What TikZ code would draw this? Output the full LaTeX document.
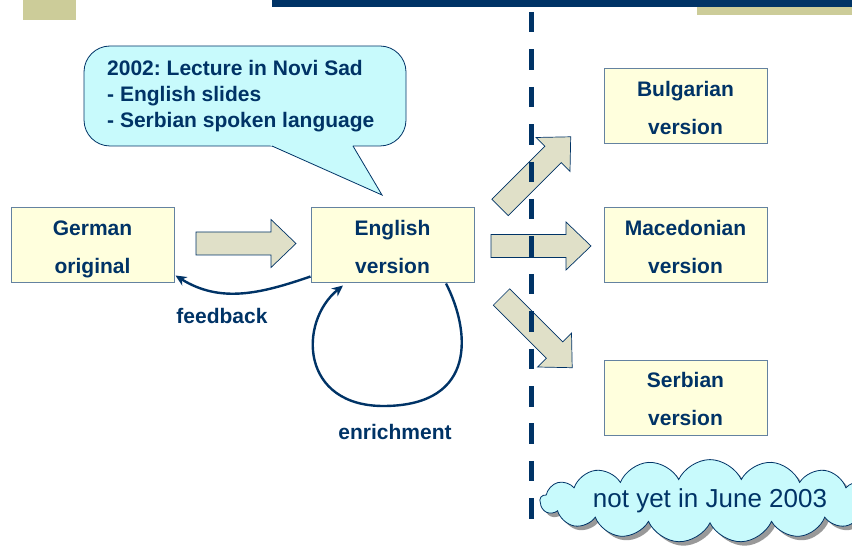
\documentclass[tikz,border=0pt]{standalone}
\usepackage{fontspec}
\setmainfont{Liberation Sans}
\usetikzlibrary{shapes.symbols,arrows.meta,shadows}

\definecolor{navy}{RGB}{0,51,102}
\definecolor{boxfill}{RGB}{255,255,221}
\definecolor{boxline}{RGB}{100,130,160}
\definecolor{arrowfill}{RGB}{224,224,200}
\definecolor{khaki}{RGB}{204,204,153}
\definecolor{callfill}{RGB}{200,250,252}

\frenchspacing
\begin{document}
\begin{tikzpicture}[x=1pt,y=-1pt,
  box/.style={draw=boxline, line width=1pt, fill=boxfill,
    minimum width=163pt, minimum height=75pt, inner sep=0pt,
    align=center, text=navy, font=\bfseries\fontsize{21}{38}\selectfont,
    execute at begin node=\rule{0pt}{61.5pt},
    execute at end node=\rule[-5pt]{0pt}{5pt}},
  blockarr/.pic={\path[draw=navy, line width=0.7pt, fill=arrowfill, line join=miter]
    (0,-11.5) -- (75,-11.5) -- (75,-24) -- (100,0) -- (75,24) -- (75,11.5)
    -- (0,11.5) -- cycle;},
  link/.style={draw=navy, line width=2.4pt, -{Stealth[length=11pt,width=10pt]}},
  lab/.style={text=navy, font=\bfseries\fontsize{21}{25}\selectfont, inner sep=0pt},
]
\useasboundingbox (0,0) rectangle (852,548);

% header decorations
\fill[khaki] (23,0) rectangle (76,20);
\fill[navy] (272,0) rectangle (852,7);
\fill[khaki] (697,7) rectangle (852,15);

% speech bubble
\node[draw=navy, line width=0.8pt, fill=callfill, rounded corners=26pt,
  minimum width=322pt, minimum height=100pt] (cb) at (245,96) {};
\coordinate (ptip) at (382,195);
\fill[callfill] (267.5,144) -- (ptip) -- (351.8,144) -- cycle;
\draw[navy, line width=0.8pt, line join=miter] (272,146) -- (ptip) -- (353,146);
\node[anchor=west, align=left, inner sep=0pt, text=navy,
  font=\bfseries\fontsize{21}{26}\selectfont] (ct) at (107,96)
  {2002: Lecture in Novi Sad\\- English slides\\- Serbian spoken language};

% language boxes
\node[box] (ger) at (92.5,245.5) {German\\original};
\node[box] (eng) at (392.5,245.5) {English\\version};
\node[box] (bul) at (685.5,106.5) {Bulgarian\\version};
\node[box] (mac) at (685.5,245) {Macedonian\\version};
\node[box] (ser) at (685.5,397.5) {Serbian\\version};

% block arrows
\pic (a1) at (196,243.5) {blockarr};
\pic (a2) at (491,246) {blockarr};
\pic[rotate=45] (a3) at (500,207.5) {blockarr};
\pic[rotate=-45] (a4) at (501.5,297) {blockarr};

% separator
\draw[navy, line width=5pt, dash pattern=on 20.5pt off 16.9pt] (531,12) -- (531,518.5);

% feedback and enrichment
\draw[link] ([yshift=7pt]eng.south west) to[out=199, in=-32]
  ([xshift=1pt,yshift=8pt]ger.south east);
\coordinate (lowest) at (385,406);
\draw[link] ([xshift=53.5pt]eng.south) .. controls (470,330) and (478,405) .. (lowest)
  .. controls (300,407) and (298,322) .. ([xshift=-49.5pt,yshift=-2pt]eng.south);
\node[lab] (fb) at (222,316) {feedback};
\node[lab] (en) at (395,432) {enrichment};

% cloud
\node[cloud, cloud puffs=17, cloud puff arc=130, cloud ignores aspect, draw=navy,
  line width=0.8pt, fill=callfill, minimum width=330pt, minimum height=82pt,
  drop shadow={shadow xshift=4pt, shadow yshift=-4pt, fill=gray!80, opacity=1},
  text=navy, font=\fontsize{26}{30}\selectfont] (cl) at (710,501) {not yet in June 2003};
\end{tikzpicture}
\end{document}
